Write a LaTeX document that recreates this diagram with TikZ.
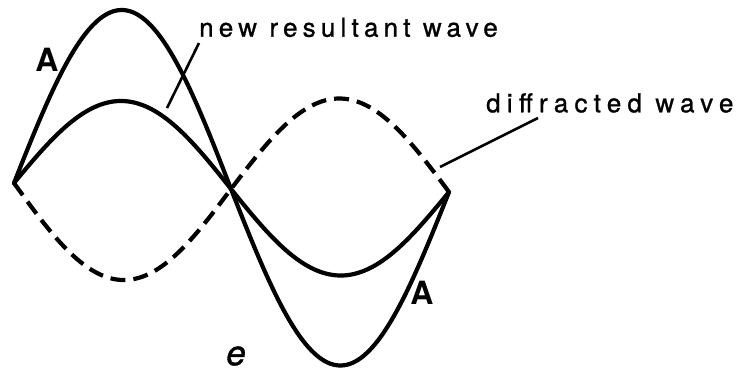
\documentclass[tikz,border=0pt]{standalone}
\usepackage{fontspec}
\setmainfont{TeX Gyre Heros}
\begin{document}
\begin{tikzpicture}[x=1pt,y=-1pt,
  wave/.style={line width=4.2pt,line join=round,line cap=round},
  dwave/.style={line width=4.2pt,dash pattern=on 15pt off 8pt,line join=miter},
  leader/.style={line width=2.6pt},
  lab/.style={inner sep=0pt,font=\fontsize{26}{30}\selectfont\addfontfeature{FakeBold=1,LetterSpace=#1}},
  biglab/.style={inner sep=0pt,font=\fontsize{32}{36}\selectfont\bfseries}]
\useasboundingbox (0,0) rectangle (743,376);
\coordinate (L) at (14,183);
\coordinate (M) at (231,189);
\coordinate (R) at (449,192);
% big wave A
\draw[wave] plot[domain=14:231,samples=80] (\x,{183+(\x-14)*0.0276-176*sin((\x-14)*0.82949)})
  -- plot[domain=231:449,samples=80] (\x,{189+(\x-231)*0.0138+175*sin((\x-231)*0.82569)});
% resultant wave
\draw[wave] plot[domain=14:231,samples=80] (\x,{183+(\x-14)*0.0276-85*sin((\x-14)*0.82949)})
  -- plot[domain=231:449,samples=80] (\x,{189+(\x-231)*0.0138+85*sin((\x-231)*0.82569)});
% diffracted wave
\draw[dwave] plot[domain=14:231,samples=80] (\x,{183+(\x-14)*0.0276+94*sin((\x-14)*0.82949)})
  -- plot[domain=231:449,samples=80] (\x,{189+(\x-231)*0.0138-92*sin((\x-231)*0.82569)});
% labels
\node[lab=20,anchor=base west] (nrw) at (199,36.7) {new resultant wave};
\node[lab=24,anchor=base west] (dw) at (486,112.3) {diffracted wave};
\node[biglab] (A1) at (47,60) {A};
\node[biglab] (A2) at (422,293) {A};
\node[inner sep=0pt,font=\fontsize{35}{38}\selectfont\itshape\addfontfeature{FakeBold=1}] (e) at (236,356) {e};
% leaders
\coordinate (n1) at (199,43);
\coordinate (n2) at (167,108);
\coordinate (d1) at (538,118);
\coordinate (d2) at (440,167);
\draw[leader] (n1) -- (n2);
\draw[leader] (d1) -- (d2);
\end{tikzpicture}
\end{document}
